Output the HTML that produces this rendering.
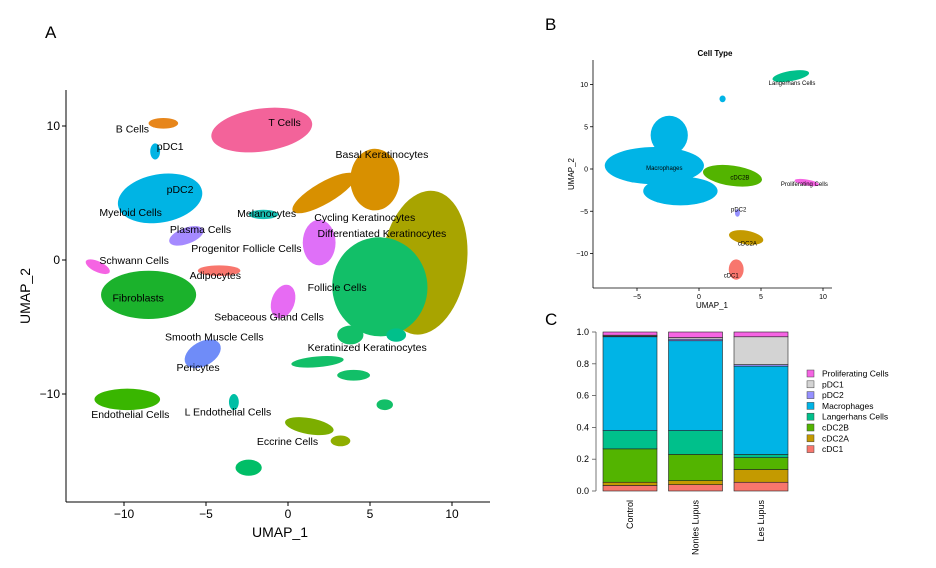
<!DOCTYPE html>
<html><head><meta charset="utf-8"><style>
body{margin:0;background:#fff}
svg{font-family:"Liberation Sans",Arial,sans-serif;display:block}
</style></head><body>
<svg id="fig" width="936" height="568" viewBox="0 0 936 568">
<g id="pa"></g>
<g id="pb"></g>
<g id="pc"></g>
<text x="45" y="38" font-size="17">A</text>
<text x="545" y="30" font-size="17">B</text>
<text x="545" y="325" font-size="17">C</text>
</svg>
<script>
const NS="http://www.w3.org/2000/svg";
function mk(p,t,a,txt){const e=document.createElementNS(NS,t);for(const k in a)e.setAttribute(k,a[k]);if(txt!==undefined)e.textContent=txt;p.appendChild(e);return e;}

// ---------- Panel A ----------
const aXTicks=[-10,-5,0,5,10];
const aYTicks=[10,0,-10];
// clusters: x,y,rx,ry,rotation,color
const aClusters=[
[-1.6,9.7,3.1,1.6,-8,"#f3639a"],[-7.6,10.2,0.9,0.4,0,"#e7861b"],[-8.1,8.1,0.3,0.6,0,"#00b4e4"],
[-7.8,4.6,2.6,1.8,-10,"#00b4e4"],[-6.2,1.8,1.1,0.6,-20,"#a58aff"],[-1.5,3.4,0.9,0.35,0,"#19bfb3"],
[-11.6,-0.5,0.8,0.4,25,"#f564e3"],[-8.5,-2.6,2.9,1.8,0,"#1bb22c"],[-4.2,-0.8,1.3,0.4,0,"#f8766d"],
[-0.3,-3.1,0.7,1.3,20,"#e76bf3"],[-5.2,-7.0,1.2,0.9,-30,"#6f8cf8"],[-9.8,-10.4,2.0,0.8,0,"#39b600"],
[-3.3,-10.6,0.3,0.6,0,"#00bfa5"],[1.3,-12.4,1.5,0.6,10,"#7cae00"],[3.2,-13.5,0.6,0.4,0,"#8fae00"],
[-2.4,-15.5,0.8,0.6,0,"#00be67"],[8.3,-0.2,2.6,5.4,8,"#a8a400"],[5.3,6.0,1.5,2.3,0,"#d89000"],
[2.2,5.0,2.2,0.8,-30,"#d89000"],[5.6,-2.0,2.9,3.7,-10,"#12bf68"],[1.9,1.3,1.0,1.7,0,"#df70f8"],
[3.8,-5.6,0.8,0.7,0,"#12bf68"],[1.8,-7.6,1.6,0.4,-5,"#12bf68"],[4.0,-8.6,1.0,0.4,0,"#12bf68"],
[6.6,-5.6,0.6,0.5,0,"#00c08b"],[5.9,-10.8,0.5,0.4,0,"#12bf68"]];
const aLabels=[["T Cells",-1.2,10],["B Cells",-10.5,9.5],["pDC1",-8,8.2],["pDC2",-7.4,5],["Myeloid Cells",-11.5,3.3],
["Plasma Cells",-7.2,2],["Melanocytes",-3.1,3.2],["Basal Keratinocytes",2.9,7.6],["Cycling Keratinocytes",1.6,2.9],
["Differentiated Keratinocytes",1.8,1.7],["Progenitor Follicle Cells",-5.9,0.6],["Schwann Cells",-11.5,-0.3],
["Adipocytes",-6.0,-1.4],["Fibroblasts",-10.7,-3.1],["Follicle Cells",1.2,-2.3],["Sebaceous Gland Cells",-4.5,-4.5],
["Smooth Muscle Cells",-7.5,-6.0],["Keratinized Keratinocytes",1.2,-6.8],["Pericytes",-6.8,-8.3],
["Endothelial Cells",-12,-11.8],["L Endothelial Cells",-6.3,-11.6],["Eccrine Cells",-1.9,-13.8]];
const pa=document.getElementById('pa');
const ax=v=>288+v*16.4, ay=v=>260-v*13.4;
aClusters.forEach(c=>{const e=mk(pa,'ellipse',{cx:ax(c[0]),cy:ay(c[1]),rx:c[2]*16.4,ry:c[3]*13.4,fill:c[5],transform:`rotate(${c[4]} ${ax(c[0])} ${ay(c[1])})`});

});
aLabels.forEach(l=>{const e=mk(pa,'text',{x:ax(l[1]),y:ay(l[2]),'font-size':10.5},l[0]);

});
mk(pa,'line',{x1:66,y1:90,x2:66,y2:502,stroke:'#000','stroke-width':1});
mk(pa,'line',{x1:66,y1:502,x2:490,y2:502,stroke:'#000','stroke-width':1});
aXTicks.forEach(t=>{mk(pa,'line',{x1:ax(t),y1:502,x2:ax(t),y2:506,stroke:'#000'});const e=mk(pa,'text',{x:ax(t),y:518,'font-size':12,'text-anchor':'middle'},t<0?'\u2212'+(-t):t);

});
aYTicks.forEach(t=>{mk(pa,'line',{x1:62,y1:ay(t),x2:66,y2:ay(t),stroke:'#000'});const e=mk(pa,'text',{x:60,y:ay(t)+4,'font-size':12,'text-anchor':'end'},t<0?'\u2212'+(-t):t);

});
mk(pa,'text',{x:280,y:537,'font-size':14,'text-anchor':'middle'},'UMAP_1');
mk(pa,'text',{x:0,y:0,'font-size':14,'text-anchor':'middle',transform:'translate(30 296) rotate(-90)'},'UMAP_2');

// ---------- Panel B ----------
const bXTicks=[-5,0,5,10];
const bYTicks=[10,5,0,-5,-10];
const bClusters=[[-3.6,0.4,4.0,2.2,0,"#00b4e6"],[-2.4,4.0,1.5,2.3,0,"#00b4e6"],[-1.5,-2.6,3.0,1.7,0,"#00b4e6"],
[1.9,8.3,0.25,0.4,0,"#00b4e6"],[2.7,-0.8,2.4,1.2,8,"#53b400"],[7.4,11,1.5,0.6,-10,"#00c08b"],
[8.7,-1.6,1.0,0.35,10,"#f564e3"],[3.1,-5.2,0.2,0.45,0,"#9590ff"],[3.8,-8.1,1.4,0.8,10,"#c49a00"],[3.0,-11.9,0.6,1.2,0,"#f8766d"]];
const bLabels=[["Langerhans Cells",7.5,10.2],["Macrophages",-2.8,0.1],["cDC2B",3.3,-1],["Proliferating Cells",8.5,-1.8],
["pDC2",3.2,-4.8],["cDC2A",3.9,-8.8],["cDC1",2.6,-12.6]];
const pb=document.getElementById('pb');
const bx=v=>699+v*12.4, by=v=>169-v*8.45;
bClusters.forEach(c=>{const e=mk(pb,'ellipse',{cx:bx(c[0]),cy:by(c[1]),rx:c[2]*12.4,ry:c[3]*8.45,fill:c[5],transform:`rotate(${c[4]} ${bx(c[0])} ${by(c[1])})`});

});
bLabels.forEach(l=>{const e=mk(pb,'text',{x:bx(l[1]),y:by(l[2])+2,'font-size':6,'text-anchor':'middle'},l[0]);

});
mk(pb,'line',{x1:593,y1:60,x2:593,y2:288,stroke:'#000','stroke-width':0.8});
mk(pb,'line',{x1:593,y1:288,x2:832,y2:288,stroke:'#000','stroke-width':0.8});
bXTicks.forEach(t=>{mk(pb,'line',{x1:bx(t),y1:288,x2:bx(t),y2:291,stroke:'#000','stroke-width':0.8});const e=mk(pb,'text',{x:bx(t),y:299,'font-size':7,'text-anchor':'middle'},t<0?'\u2212'+(-t):t);

});
bYTicks.forEach(t=>{mk(pb,'line',{x1:590,y1:by(t),x2:593,y2:by(t),stroke:'#000','stroke-width':0.8});const e=mk(pb,'text',{x:588,y:by(t)+2.5,'font-size':7,'text-anchor':'end'},t<0?'\u2212'+(-t):t);

});
mk(pb,'text',{x:712,y:308,'font-size':8,'text-anchor':'middle'},'UMAP_1');
mk(pb,'text',{x:0,y:0,'font-size':8,'text-anchor':'middle',transform:'translate(574 174) rotate(-90)'},'UMAP_2');
mk(pb,'text',{x:715,y:56,'font-size':8,'font-weight':'bold','text-anchor':'middle'},'Cell Type');

// ---------- Panel C ----------
const cGroups=["Control","Nonles Lupus","Les Lupus"];
const cTypes=["cDC1","cDC2A","cDC2B","Langerhans Cells","Macrophages","pDC2","pDC1","Proliferating Cells"];
const cColors=["#f8766d","#c49a00","#53b400","#00c08b","#00b4e6","#9590ff","#d3d3d3","#f564e3"];
const cControl=[0.035,0.02,0.21,0.115,0.59,0.005,0.005,0.02];
const cNonles=[0.04,0.025,0.165,0.15,0.565,0.01,0.01,0.035];
const cLes=[0.055,0.08,0.075,0.02,0.555,0.01,0.175,0.03];
const cYTicks=["0.0","0.2","0.4","0.6","0.8","1.0"];
const pc=document.getElementById('pc');
const cy=v=>491-v*159;
const cbx=i=>603+i*65.5, bw=54;
[cControl,cNonles,cLes].forEach((vals,i)=>{let acc=0;vals.forEach((v,j)=>{const r=mk(pc,'rect',{x:cbx(i),y:cy(acc+v),width:bw,height:cy(acc)-cy(acc+v),fill:cColors[j],stroke:'#222','stroke-width':0.6});

acc+=v;});
const t=mk(pc,'text',{x:0,y:0,'font-size':9,'text-anchor':'end',transform:`translate(${cbx(i)+bw/2+3} 500) rotate(-90)`},cGroups[i]);

});
mk(pc,'line',{x1:596,y1:cy(0),x2:596,y2:cy(1),stroke:'#555','stroke-width':0.8});
cYTicks.forEach(t=>{const v=parseFloat(t);mk(pc,'line',{x1:592,y1:cy(v),x2:596,y2:cy(v),stroke:'#555','stroke-width':0.8});const e=mk(pc,'text',{x:589,y:cy(v)+3,'font-size':9,'text-anchor':'end'},t);

});
for(let k=cTypes.length-1;k>=0;k--){const row=cTypes.length-1-k;const yy=373+row*10.8;
const r=mk(pc,'rect',{x:807,y:yy-3,width:7,height:7,fill:cColors[k],stroke:'#444','stroke-width':0.5});


const t=mk(pc,'text',{x:822,y:yy+3.5,'font-size':8.5},cTypes[k]);

}
</script>
</body></html>
